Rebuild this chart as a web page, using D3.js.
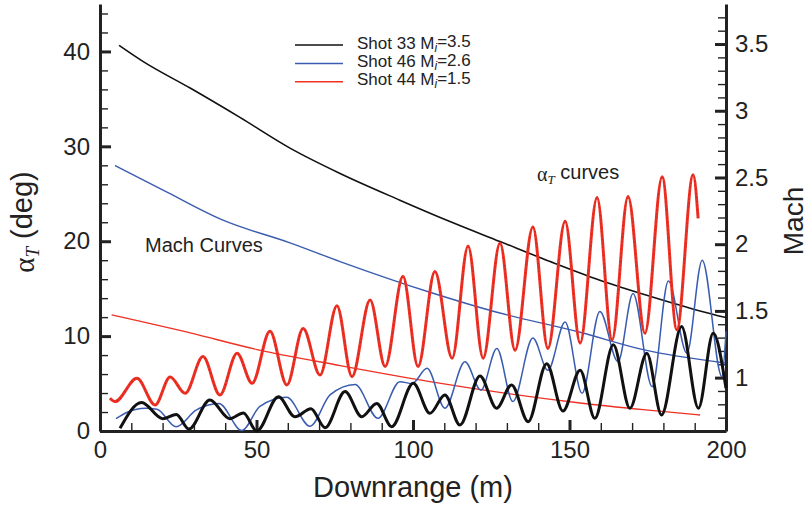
<html>
<head>
<title>alpha T and Mach vs downrange</title>
<style>
body {
	margin: 0;
	background: #fff;
	font-family: 'Liberation Sans', Arial, sans-serif;
}
.axis text {
	font-size: 24px;
	fill: #222;
	font-family: 'Liberation Sans', Arial, sans-serif;
}
.axis .domain {
	stroke: #222;
	stroke-width: 3;
}
.major line {
	stroke: #222;
	stroke-width: 3;
}
.minor line {
	stroke: #222;
	stroke-width: 1.4;
}
</style>
</head>
<body>
<svg width="808" height="508"></svg>
<script src="https://d3js.org/d3.v7.min.js"></script>
<script>
// Mach curves (thin lines): downrange (m) and Mach number
let machBlackX = [6.1, 13.7, 28.8, 44.7, 60.7, 76.7, 95.8, 111.8, 127.8, 143.8, 159.7, 175.7, 191.7, 200];
let machBlackY = [3.49, 3.37, 3.17, 2.95, 2.72, 2.53, 2.33, 2.17, 2.02, 1.87, 1.73, 1.61, 1.50, 1.45];
let machBlueX = [4.8, 21.4, 39.3, 60.7, 76.7, 105.4, 126.8, 153.4, 173.5, 199.7];
let machBlueY = [2.59, 2.39, 2.18, 2.01, 1.87, 1.64, 1.49, 1.34, 1.21, 1.11];
let machRedX = [3.7, 28.8, 50.2, 76.7, 105.4, 153.4, 173.5, 191.7];
let machRedY = [1.47, 1.335, 1.21, 1.09, 0.97, 0.81, 0.76, 0.72];

// alpha T curves (thick lines): downrange (m) and total angle of attack (deg)
let alphaRedX = [3.2, 4.8, 11.8, 17.6, 22.4, 27.2, 32.9, 38.3, 43.8, 48.6, 54.3, 59.7, 64.9, 70.3, 75.7, 80.5, 86.3, 91.1, 96.8, 101.6,
	107.0, 112.5, 117.6, 122.4, 127.8, 132.6, 138.3, 143.1, 148.6, 153.4, 158.8, 163.6, 168.7, 174.1, 179.6, 184.3, 189.5, 191.1];
let alphaRedY = [3.45, 3.1, 5.56, 2.74, 5.7, 3.97, 7.84, 3.8, 8.2, 5.03, 10.5, 4.85, 10.8, 5.9, 13.2, 5.73, 13.8, 6.79, 16.3, 6.79,
	16.8, 7.67, 19.5, 7.67, 19.8, 8.5, 21.5, 8.7, 22.1, 9.25, 24.6, 9.6, 24.7, 10.3, 26.8, 10.66, 27.0, 22.4];
let alphaBlackX = [6.4, 13.3, 20.0, 24.4, 28.4, 35.1, 41.5, 45.8, 50.1, 57.0, 62.3, 67.4, 71.9, 78.3, 83.6, 88.4, 93.2, 100.1, 105.4,
	110.2, 115.0, 121.4, 126.7, 131.5, 136.8, 142.7, 147.9, 153.4, 158.1, 164.0, 169.3, 174.7, 179.4, 185.8, 191.2, 195.9, 200];
let alphaBlackY = [0.28, 3.0, 1.3, 1.75, 0.2, 3.27, 1.3, 1.9, 0.0, 3.62, 1.5, 2.35, 0.35, 4.15, 1.5, 2.9, 0.46, 5.03, 1.86,
	3.8, 0.63, 5.8, 2.4, 4.86, 0.98, 7.1, 2.1, 6.4, 1.34, 9.08, 2.4, 8.2, 1.69, 11.0, 2.4, 10.3, 4.5];
let alphaBlueX = [5.1, 8.9, 14.4, 18.2, 24.3, 30.7, 38.0, 45.3, 51.1, 59.7, 67.1, 73.5, 81.5, 88.8, 95.8, 99.7, 104.5, 110.2, 116.6,
	121.7, 126.8, 131.9, 138.3, 143.1, 148.6, 154.0, 159.7, 165.5, 170.3, 176.4, 181.6, 187.5, 192.4, 198.7, 200];
let alphaBlueY = [1.3, 2.0, 2.4, 2.3, 0.45, 2.2, 2.9, 0.05, 2.6, 3.55, 0.5, 3.8, 4.9, 1.34, 5.2, 5.0, 6.6, 2.4, 7.3,
	4.3, 8.7, 3.1, 9.8, 6.4, 11.5, 3.97, 12.6, 7.3, 14.5, 4.67, 15.8, 8.2, 18.0, 5.73, 10.5];

// Tick values
let xMajor = [0, 50, 100, 150, 200];
let xMinor = [10, 20, 30, 40, 60, 70, 80, 90, 110, 120, 130, 140, 160, 170, 180, 190];
let yMajor = [0, 10, 20, 30, 40];
let yMinor = [2, 4, 6, 8, 12, 14, 16, 18, 22, 24, 26, 28, 32, 34, 36, 38, 42, 44];
let machMajor = [1, 1.5, 2, 2.5, 3, 3.5];
let machMinor = [0.7, 0.8, 0.9, 1.1, 1.2, 1.3, 1.4, 1.6, 1.7, 1.8, 1.9, 2.1, 2.2, 2.3, 2.4, 2.6, 2.7, 2.8, 2.9,
	3.1, 3.2, 3.3, 3.4, 3.6, 3.7];

// Legend
let legendNames = ["Shot 33", "Shot 46", "Shot 44"];
let legendMach = ["3.5", "2.6", "1.5"];
let colors = ["#111111", "#3a5cb0", "#ee3124"];

let svg = d3.select("svg");
let margin = {left: 100, right: 82, top: 4, bottom: 77};
let W = 808, H = 508;

let x = d3.scaleLinear().domain([0, 200]).range([margin.left, W - margin.right]);
let y = d3.scaleLinear().domain([0, 45]).range([H - margin.bottom, margin.top]);
let yM = d3.scaleLinear().domain([0.6, 3.8]).range([H - margin.bottom, margin.top]);

function zip(a, b) {
	return a.map(function(v, i) { return [v, b[i]]; });
}

// Minor ticks first, no labels
svg.append("g").attr("class", "axis minor")
	.attr("transform", "translate(0," + y(0) + ")")
	.call(d3.axisBottom(x).tickValues(xMinor).tickSize(-8).tickSizeOuter(0).tickFormat(""))
	.select(".domain").remove();
svg.append("g").attr("class", "axis minor")
	.attr("transform", "translate(" + x(0) + ",0)")
	.call(d3.axisLeft(y).tickValues(yMinor).tickSize(-8).tickSizeOuter(0).tickFormat(""))
	.select(".domain").remove();
svg.append("g").attr("class", "axis minor")
	.attr("transform", "translate(" + x(200) + ",0)")
	.call(d3.axisRight(yM).tickValues(machMinor).tickSize(-8).tickSizeOuter(0).tickFormat(""))
	.select(".domain").remove();

// Major ticks with labels
svg.append("g").attr("class", "axis major")
	.attr("transform", "translate(0," + y(0) + ")")
	.call(d3.axisBottom(x).tickValues(xMajor).tickSize(-11).tickSizeOuter(0).tickPadding(10));
svg.append("g").attr("class", "axis major")
	.attr("transform", "translate(" + x(0) + ",0)")
	.call(d3.axisLeft(y).tickValues(yMajor).tickSize(-11).tickSizeOuter(0).tickPadding(10));
svg.append("g").attr("class", "axis major")
	.attr("transform", "translate(" + x(200) + ",0)")
	.call(d3.axisRight(yM).tickValues(machMajor).tickSize(-11).tickSizeOuter(0).tickPadding(9)
		.tickFormat(function(d) { return String(d); }));

// Line generators
let lineA = d3.line().x(function(d) { return x(d[0]); }).y(function(d) { return y(d[1]); }).curve(d3.curveMonotoneX);
let lineM = d3.line().x(function(d) { return x(d[0]); }).y(function(d) { return yM(d[1]); }).curve(d3.curveMonotoneX);

// Mach curves
svg.append("path").datum(zip(machRedX, machRedY)).attr("d", lineM)
	.attr("fill", "none").attr("stroke", colors[2]).attr("stroke-width", 1.4);
svg.append("path").datum(zip(machBlueX, machBlueY)).attr("d", lineM)
	.attr("fill", "none").attr("stroke", colors[1]).attr("stroke-width", 1.4);
svg.append("path").datum(zip(machBlackX, machBlackY)).attr("d", lineM)
	.attr("fill", "none").attr("stroke", colors[0]).attr("stroke-width", 1.6);

// alpha T curves
svg.append("path").datum(zip(alphaBlueX, alphaBlueY)).attr("d", lineA)
	.attr("fill", "none").attr("stroke", colors[1]).attr("stroke-width", 1.5);
svg.append("path").datum(zip(alphaBlackX, alphaBlackY)).attr("d", lineA)
	.attr("fill", "none").attr("stroke", colors[0]).attr("stroke-width", 3).attr("stroke-linejoin", "round");
svg.append("path").datum(zip(alphaRedX, alphaRedY)).attr("d", lineA)
	.attr("fill", "none").attr("stroke", colors[2]).attr("stroke-width", 3).attr("stroke-linejoin", "round");
// dotted markers along the red curve
svg.append("path").datum(zip(alphaRedX, alphaRedY)).attr("d", lineA)
	.attr("fill", "none").attr("stroke", "#c4231a").attr("stroke-width", 1.2).attr("stroke-dasharray", "1,3");

// Axis titles
svg.append("text")
	.attr("x", x(100)).attr("y", 497)
	.attr("text-anchor", "middle")
	.style("font-size", "29px").style("fill", "#222")
	.text("Downrange (m)");

let yt = svg.append("text")
	.attr("transform", "translate(34,222) rotate(-90)")
	.attr("text-anchor", "middle")
	.style("font-size", "29px").style("fill", "#222");
yt.append("tspan").style("font-family", "'Liberation Serif', serif").text("\u03b1");
yt.append("tspan").attr("dy", "0.25em").style("font-size", "19px").style("font-style", "italic")
	.style("font-family", "'Liberation Serif', serif").text("T");
yt.append("tspan").attr("dy", "-0.25em").text(" (deg)");

svg.append("text")
	.attr("transform", "translate(803,221) rotate(-90)")
	.attr("text-anchor", "middle")
	.style("font-size", "28px").style("fill", "#222")
	.text("Mach");

// In-plot annotations
svg.append("text")
	.attr("x", 145).attr("y", 252)
	.style("font-size", "20px").style("fill", "#222")
	.text("Mach Curves");

let at = svg.append("text")
	.attr("x", 537).attr("y", 181)
	.style("font-size", "20px").style("fill", "#222");
at.append("tspan").style("font-family", "'Liberation Serif', serif").text("\u03b1");
at.append("tspan").attr("dy", "0.25em").style("font-size", "13px").style("font-style", "italic")
	.style("font-family", "'Liberation Serif', serif").text("T");
at.append("tspan").attr("dy", "-0.25em").text(" curves");

// Legend
let legend = svg.append("g");
legendNames.forEach(function(name, i) {
	let ly = 45 + i * 18.4;
	legend.append("line")
		.attr("x1", 295).attr("x2", 343).attr("y1", ly).attr("y2", ly)
		.attr("stroke", colors[i]).attr("stroke-width", 1.5);
	let t = legend.append("text")
		.attr("x", 357).attr("y", ly + 3.5)
		.style("font-size", "17px").style("fill", "#222");
	t.append("tspan").text(name + " M");
	t.append("tspan").attr("dy", "0.25em").style("font-size", "12px").style("font-style", "italic").text("i");
	t.append("tspan").attr("dy", "-0.25em").text("=" + legendMach[i]);
});
</script>
</body>
</html>
